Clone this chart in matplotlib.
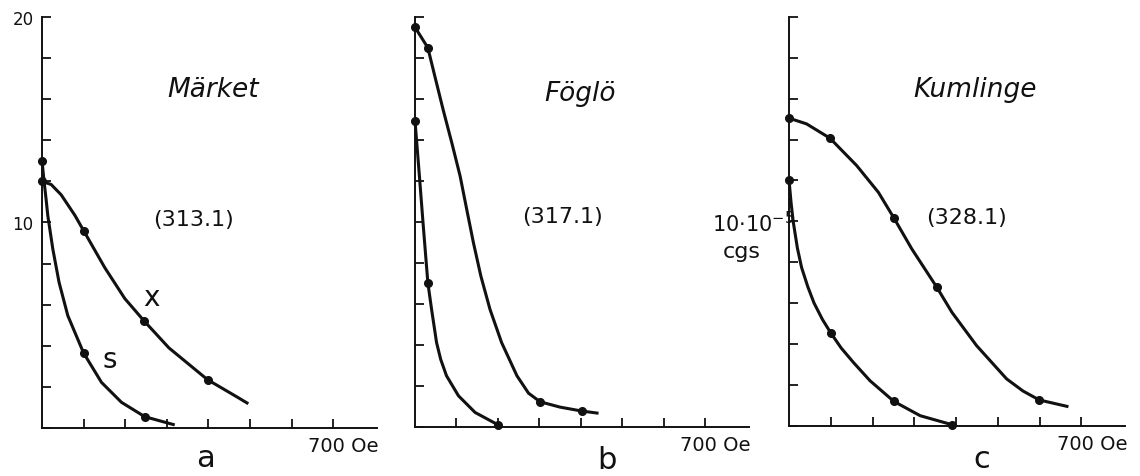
import matplotlib.pyplot as plt

# -----------------------------
# Data (field in Oe, value in 10^-5 cgs)
# -----------------------------
# a: Märket (313.1)
a_x_H = [0, 101, 245, 398]
a_x_M = [12.0, 9.57, 5.22, 2.35]
a_x_curve_H = [0, 22, 46, 79, 101, 151, 199, 245, 305, 398, 468, 496]
a_x_curve_M = [12.0, 11.85, 11.35, 10.35, 9.57, 7.8, 6.3, 5.22, 3.9, 2.35, 1.52, 1.18]

a_s_H = [0, 100, 247]
a_s_M = [13.0, 3.65, 0.55]
a_s_curve_H = [0, 5, 10, 14, 26, 41, 62, 100, 143, 191, 247, 319]
a_s_curve_M = [13.0, 12.0, 11.1, 10.33, 8.71, 7.09, 5.47, 3.65, 2.22, 1.25, 0.55, 0.15]

# b: Föglö (317.1)
b_x_H = [0, 31, 302, 402]
b_x_M = [19.5, 18.5, 1.23, 0.78]
b_x_curve_H = [0, 31, 48, 68, 89, 109, 125, 141, 159, 181, 209, 246, 274, 302, 350, 402, 443]
b_x_curve_M = [19.5, 18.5, 17.1, 15.47, 13.85, 12.23, 10.6, 8.99, 7.36, 5.74, 4.12, 2.5, 1.65, 1.23, 0.97, 0.78, 0.67]

b_s_H = [0, 31, 201]
b_s_M = [14.94, 7.04, 0.1]
b_s_curve_H = [0, 10, 20, 31, 40, 52, 62, 76, 105, 145, 201]
b_s_curve_M = [14.94, 12.4, 9.8, 7.04, 5.74, 4.12, 3.3, 2.5, 1.52, 0.71, 0.1]

# c: Kumlinge (328.1)
c_x_H = [0, 98, 251, 354, 599]
c_x_M = [15.05, 14.07, 10.17, 6.77, 1.26]
c_x_curve_H = [0, 42, 98, 162, 214, 251, 294, 354, 390, 449, 521, 560, 599, 669]
c_x_curve_M = [15.05, 14.77, 14.07, 12.73, 11.42, 10.17, 8.65, 6.77, 5.55, 3.92, 2.29, 1.7, 1.26, 0.93]

c_s_H = [0, 100, 251, 390]
c_s_M = [12.03, 4.54, 1.19, 0.05]
c_s_curve_H = [0, 5, 10, 20, 30, 45, 60, 80, 100, 125, 154, 194, 251, 314, 390]
c_s_curve_M = [12.03, 10.9, 10.0, 8.7, 7.75, 6.8, 6.0, 5.2, 4.54, 3.8, 3.1, 2.2, 1.19, 0.49, 0.05]

x_ticks = [100, 200, 300, 400, 500, 600, 700]
y_ticks = [0, 2, 4, 6, 8, 10, 12, 14, 16, 18, 20]

INK = "#111111"

fig = plt.figure(figsize=(11.4, 4.77), dpi=100)


def setup(ax, show_labels=False):
    ax.set_xlim(0, 805)
    ax.set_ylim(0, 20)
    for s in ["top", "right"]:
        ax.spines[s].set_visible(False)
    for s in ["left", "bottom"]:
        ax.spines[s].set_linewidth(1.4)
        ax.spines[s].set_color(INK)
    ax.set_xticks(x_ticks)
    ax.set_xticklabels([])
    ax.set_yticks(y_ticks)
    if show_labels:
        ax.set_yticklabels(["10" if v == 10 else "20" if v == 20 else "" for v in y_ticks])
    else:
        ax.set_yticklabels([])
    ax.tick_params(direction="in", length=6.5, width=1.3, color=INK,
                   labelsize=12, pad=6, labelcolor=INK)
    ax.patch.set_alpha(0)
    ax.text(725, -0.85, "700 Oe", fontsize=14, ha="center", va="center",
            color=INK, clip_on=False)


def curve(ax, ch, cm, ph, pm):
    ax.plot(ch, cm, color=INK, lw=2.2, solid_joinstyle="round",
            solid_capstyle="butt", clip_on=False)
    ax.plot(ph, pm, "o", color=INK, ms=5.5, clip_on=False)


# -----------------------------
# Panel a
# -----------------------------
ax_a = fig.add_axes([0.03684, 0.10063, 0.29377, 0.86164])
setup(ax_a, show_labels=True)
curve(ax_a, a_x_curve_H, a_x_curve_M, a_x_H, a_x_M)
curve(ax_a, a_s_curve_H, a_s_curve_M, a_s_H, a_s_M)
ax_a.text(411, 16.5, "Märket", fontsize=19, style="italic", ha="center", va="center", color=INK)
ax_a.text(363, 10.17, "(313.1)", fontsize=16, ha="center", va="center", color=INK)
ax_a.text(263, 6.36, "x", fontsize=20, ha="center", va="center", color=INK)
ax_a.text(163, 3.36, "s", fontsize=20, ha="center", va="center", color=INK)
ax_a.text(392, -1.45, "a", fontsize=22, ha="center", va="center", color=INK, clip_on=False)

# -----------------------------
# Panel b
# -----------------------------
ax_b = fig.add_axes([0.36404, 0.10273, 0.29254, 0.85954])
setup(ax_b)
curve(ax_b, b_x_curve_H, b_x_curve_M, b_x_H, b_x_M)
curve(ax_b, b_s_curve_H, b_s_curve_M, b_s_H, b_s_M)
ax_b.text(398, 16.3, "Föglö", fontsize=19, style="italic", ha="center", va="center", color=INK)
ax_b.text(357, 10.27, "(317.1)", fontsize=16, ha="center", va="center", color=INK)
ax_b.text(463, -1.6, "b", fontsize=22, ha="center", va="center", color=INK, clip_on=False)

# -----------------------------
# Panel c
# -----------------------------
ax_c = fig.add_axes([0.69211, 0.10545, 0.29496, 0.85681])
setup(ax_c)
curve(ax_c, c_x_curve_H, c_x_curve_M, c_x_H, c_x_M)
curve(ax_c, c_s_curve_H, c_s_curve_M, c_s_H, c_s_M)
ax_c.text(445, 16.48, "Kumlinge", fontsize=19, style="italic", ha="center", va="center", color=INK)
ax_c.text(426, 10.2, "(328.1)", fontsize=16, ha="center", va="center", color=INK)
ax_c.text(462, -1.6, "c", fontsize=22, ha="center", va="center", color=INK, clip_on=False)

# unit label between b and c
fig.text(753 / 1140, 1 - 224 / 477, r"10$\cdot$10$^{-5}$", fontsize=15,
         ha="center", va="center", color=INK)
fig.text(742 / 1140, 1 - 252 / 477, "cgs", fontsize=16,
         ha="center", va="center", color=INK)

plt.savefig("out.png", dpi=100, facecolor="white")
